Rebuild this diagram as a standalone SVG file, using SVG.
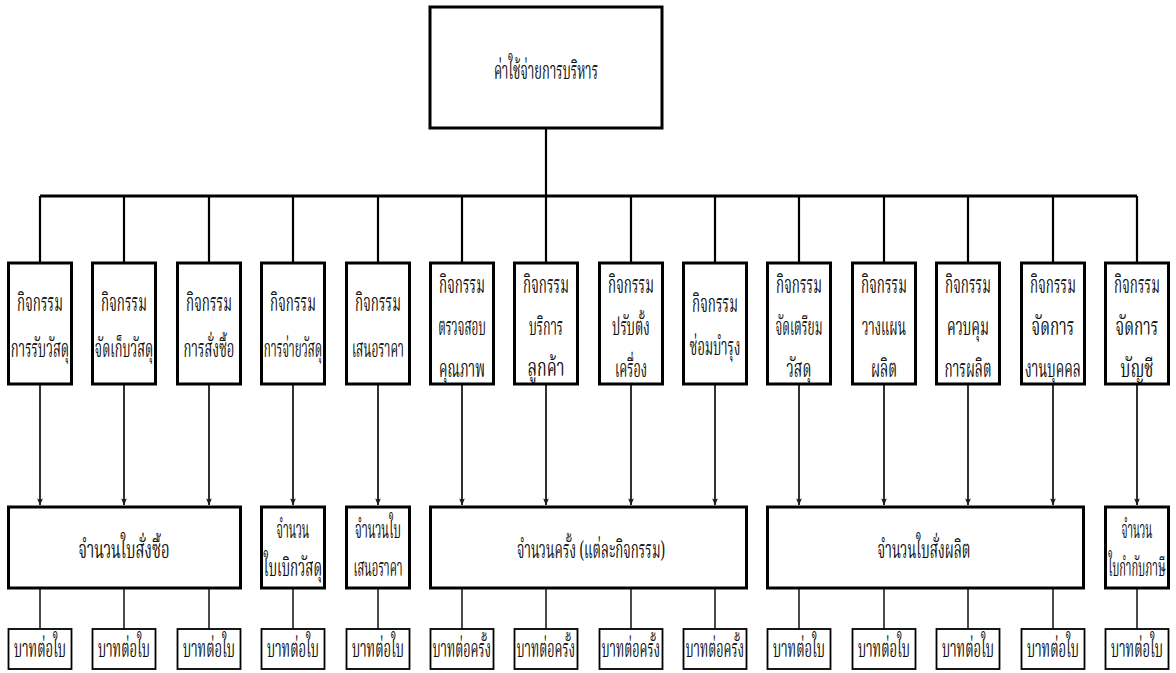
<svg xmlns="http://www.w3.org/2000/svg" width="1176" height="673" viewBox="0 0 1176 673">
  <style>
    .bg { fill: #ffffff; }
    .box { fill: #ffffff; stroke: #000000; stroke-width: 3; }
    .leaf { fill: #ffffff; stroke: #000000; stroke-width: 1.8; }
    .bar { fill: none; stroke: #000000; stroke-width: 3; }
    .stem { fill: none; stroke: #000000; stroke-width: 2.2; }
    .flow { fill: none; stroke: #1a1a1a; stroke-width: 1.8; }
    .thin { fill: none; stroke: #111111; stroke-width: 1.5; }
    text { font-family: "Noto Serif Thai", "Loma", "Garuda", "Norasi", "Noto Sans Thai", "DejaVu Sans", sans-serif; font-size: 24px; fill: #111111; text-anchor: middle; }
  </style>
  <defs>
    <marker id="arrow" viewBox="0 0 8 8" refX="7.5" refY="4" markerWidth="7" markerHeight="7" orient="auto" markerUnits="userSpaceOnUse">
      <path d="M0,0.8 L8,4 L0,7.2 L1.5,4 Z" fill="#1a1a1a"/>
    </marker>
  </defs>
  <rect class="bg" x="0" y="0" width="1176" height="673"/>

  <!-- connectors -->
  <g id="connectors">
    <line class="stem" x1="546" y1="128" x2="546" y2="196"/>
    <line class="bar" x1="40" y1="196" x2="1137" y2="196"/>
    <!-- drops from the bar to each activity -->
    <path class="stem" d="M40,196V263 M124,196V263 M209,196V263 M293,196V263 M378,196V263 M462,196V263 M546,196V263 M631,196V263 M715,196V263 M799,196V263 M884,196V263 M968,196V263 M1053,196V263 M1137,196V263"/>
    <!-- activity to driver arrows -->
    <line class="flow" x1="40" y1="384" x2="40" y2="505" marker-end="url(#arrow)"/>
    <line class="flow" x1="124" y1="384" x2="124" y2="505" marker-end="url(#arrow)"/>
    <line class="flow" x1="209" y1="384" x2="209" y2="505" marker-end="url(#arrow)"/>
    <line class="flow" x1="293" y1="384" x2="293" y2="505" marker-end="url(#arrow)"/>
    <line class="flow" x1="378" y1="384" x2="378" y2="505" marker-end="url(#arrow)"/>
    <line class="flow" x1="462" y1="384" x2="462" y2="505" marker-end="url(#arrow)"/>
    <line class="flow" x1="546" y1="384" x2="546" y2="505" marker-end="url(#arrow)"/>
    <line class="flow" x1="631" y1="384" x2="631" y2="505" marker-end="url(#arrow)"/>
    <line class="flow" x1="715" y1="384" x2="715" y2="505" marker-end="url(#arrow)"/>
    <line class="flow" x1="799" y1="384" x2="799" y2="505" marker-end="url(#arrow)"/>
    <line class="flow" x1="884" y1="384" x2="884" y2="505" marker-end="url(#arrow)"/>
    <line class="flow" x1="968" y1="384" x2="968" y2="505" marker-end="url(#arrow)"/>
    <line class="flow" x1="1053" y1="384" x2="1053" y2="505" marker-end="url(#arrow)"/>
    <line class="flow" x1="1137" y1="384" x2="1137" y2="505" marker-end="url(#arrow)"/>
    <!-- driver to rate lines -->
    <path class="thin" d="M40,588V629 M124,588V629 M209,588V629 M293,588V629 M378,588V629 M462,588V629 M546,588V629 M631,588V629 M715,588V629 M799,588V629 M884,588V629 M968,588V629 M1053,588V629 M1137,588V629"/>
  </g>

  <!-- labels use a condensed run: scale(.62 1) with textLength in local units -->
  <!-- root -->
  <g id="admin-cost">
    <rect class="box" x="430" y="7" width="232" height="121"/>
    <text transform="translate(546 79) scale(.62 1)" textLength="168" lengthAdjust="spacingAndGlyphs">ค่าใช้จ่ายการบริหาร</text>
  </g>

  <!-- activities -->
  <g id="act-receive">
    <rect class="box" x="8.5" y="263" width="63" height="121"/>
    <text transform="translate(40 311) scale(.62 1)" textLength="74" lengthAdjust="spacingAndGlyphs">กิจกรรม</text>
    <text transform="translate(40 357) scale(.62 1)" textLength="94" lengthAdjust="spacingAndGlyphs">การรับวัสดุ</text>
  </g>
  <g id="act-store">
    <rect class="box" x="92.5" y="263" width="63" height="121"/>
    <text transform="translate(124 311) scale(.62 1)" textLength="74" lengthAdjust="spacingAndGlyphs">กิจกรรม</text>
    <text transform="translate(124 357) scale(.62 1)" textLength="94" lengthAdjust="spacingAndGlyphs">จัดเก็บวัสดุ</text>
  </g>
  <g id="act-purchase">
    <rect class="box" x="177.5" y="263" width="63" height="121"/>
    <text transform="translate(209 311) scale(.62 1)" textLength="74" lengthAdjust="spacingAndGlyphs">กิจกรรม</text>
    <text transform="translate(209 357) scale(.62 1)" textLength="82" lengthAdjust="spacingAndGlyphs">การสั่งซื้อ</text>
  </g>
  <g id="act-issue">
    <rect class="box" x="261.5" y="263" width="63" height="121"/>
    <text transform="translate(293 311) scale(.62 1)" textLength="74" lengthAdjust="spacingAndGlyphs">กิจกรรม</text>
    <text transform="translate(293 357) scale(.62 1)" textLength="94" lengthAdjust="spacingAndGlyphs">การจ่ายวัสดุ</text>
  </g>
  <g id="act-quote">
    <rect class="box" x="346.5" y="263" width="63" height="121"/>
    <text transform="translate(378 311) scale(.62 1)" textLength="74" lengthAdjust="spacingAndGlyphs">กิจกรรม</text>
    <text transform="translate(378 357) scale(.62 1)" textLength="84" lengthAdjust="spacingAndGlyphs">เสนอราคา</text>
  </g>
  <g id="act-inspect">
    <rect class="box" x="430.5" y="263" width="63" height="121"/>
    <text transform="translate(462 293) scale(.62 1)" textLength="74" lengthAdjust="spacingAndGlyphs">กิจกรรม</text>
    <text transform="translate(462 335) scale(.62 1)" textLength="77" lengthAdjust="spacingAndGlyphs">ตรวจสอบ</text>
    <text transform="translate(462 377) scale(.62 1)" textLength="74" lengthAdjust="spacingAndGlyphs">คุณภาพ</text>
  </g>
  <g id="act-service">
    <rect class="box" x="514.5" y="263" width="63" height="121"/>
    <text transform="translate(546 293) scale(.62 1)" textLength="74" lengthAdjust="spacingAndGlyphs">กิจกรรม</text>
    <text transform="translate(546 335) scale(.62 1)" textLength="55" lengthAdjust="spacingAndGlyphs">บริการ</text>
    <text transform="translate(546 376) scale(.62 1)" textLength="60" lengthAdjust="spacingAndGlyphs">ลูกค้า</text>
  </g>
  <g id="act-setup">
    <rect class="box" x="599.5" y="263" width="63" height="121"/>
    <text transform="translate(631 293) scale(.62 1)" textLength="74" lengthAdjust="spacingAndGlyphs">กิจกรรม</text>
    <text transform="translate(631 335) scale(.62 1)" textLength="61" lengthAdjust="spacingAndGlyphs">ปรับตั้ง</text>
    <text transform="translate(631 377) scale(.62 1)" textLength="52" lengthAdjust="spacingAndGlyphs">เครื่อง</text>
  </g>
  <g id="act-maintain">
    <rect class="box" x="683.5" y="263" width="63" height="121"/>
    <text transform="translate(715 312) scale(.62 1)" textLength="74" lengthAdjust="spacingAndGlyphs">กิจกรรม</text>
    <text transform="translate(715 355) scale(.62 1)" textLength="82" lengthAdjust="spacingAndGlyphs">ซ่อมบำรุง</text>
  </g>
  <g id="act-prepare">
    <rect class="box" x="767.5" y="263" width="63" height="121"/>
    <text transform="translate(799 293) scale(.62 1)" textLength="74" lengthAdjust="spacingAndGlyphs">กิจกรรม</text>
    <text transform="translate(799 335) scale(.62 1)" textLength="76" lengthAdjust="spacingAndGlyphs">จัดเตรียม</text>
    <text transform="translate(799 377) scale(.62 1)" textLength="40" lengthAdjust="spacingAndGlyphs">วัสดุ</text>
  </g>
  <g id="act-plan">
    <rect class="box" x="852.5" y="263" width="63" height="121"/>
    <text transform="translate(884 293) scale(.62 1)" textLength="74" lengthAdjust="spacingAndGlyphs">กิจกรรม</text>
    <text transform="translate(884 335) scale(.62 1)" textLength="71" lengthAdjust="spacingAndGlyphs">วางแผน</text>
    <text transform="translate(884 377) scale(.62 1)" textLength="42" lengthAdjust="spacingAndGlyphs">ผลิต</text>
  </g>
  <g id="act-control">
    <rect class="box" x="936.5" y="263" width="63" height="121"/>
    <text transform="translate(968 293) scale(.62 1)" textLength="74" lengthAdjust="spacingAndGlyphs">กิจกรรม</text>
    <text transform="translate(968 335) scale(.62 1)" textLength="68" lengthAdjust="spacingAndGlyphs">ควบคุม</text>
    <text transform="translate(968 377) scale(.62 1)" textLength="76" lengthAdjust="spacingAndGlyphs">การผลิต</text>
  </g>
  <g id="act-personnel">
    <rect class="box" x="1021.5" y="263" width="63" height="121"/>
    <text transform="translate(1053 293) scale(.62 1)" textLength="74" lengthAdjust="spacingAndGlyphs">กิจกรรม</text>
    <text transform="translate(1053 335) scale(.62 1)" textLength="69" lengthAdjust="spacingAndGlyphs">จัดการ</text>
    <text transform="translate(1053 377) scale(.62 1)" textLength="90" lengthAdjust="spacingAndGlyphs">งานบุคคล</text>
  </g>
  <g id="act-accounting">
    <rect class="box" x="1105.5" y="263" width="63" height="121"/>
    <text transform="translate(1137 293) scale(.62 1)" textLength="74" lengthAdjust="spacingAndGlyphs">กิจกรรม</text>
    <text transform="translate(1137 335) scale(.62 1)" textLength="69" lengthAdjust="spacingAndGlyphs">จัดการ</text>
    <text transform="translate(1137 377) scale(.62 1)" textLength="53" lengthAdjust="spacingAndGlyphs">บัญชี</text>
  </g>

  <!-- cost drivers -->
  <g id="drv-purchase-orders">
    <rect class="box" x="8.5" y="507" width="232" height="81"/>
    <text transform="translate(124 558) scale(.62 1)" textLength="147" lengthAdjust="spacingAndGlyphs">จำนวนใบสั่งซื้อ</text>
  </g>
  <g id="drv-requisitions">
    <rect class="box" x="261.5" y="507" width="63" height="81"/>
    <text transform="translate(293 538) scale(.62 1)" textLength="53" lengthAdjust="spacingAndGlyphs">จำนวน</text>
    <text transform="translate(293 576) scale(.62 1)" textLength="94" lengthAdjust="spacingAndGlyphs">ใบเบิกวัสดุ</text>
  </g>
  <g id="drv-quotations">
    <rect class="box" x="346.5" y="507" width="63" height="81"/>
    <text transform="translate(378 538) scale(.62 1)" textLength="74" lengthAdjust="spacingAndGlyphs">จำนวนใบ</text>
    <text transform="translate(378 576) scale(.62 1)" textLength="79" lengthAdjust="spacingAndGlyphs">เสนอราคา</text>
  </g>
  <g id="drv-occurrences">
    <rect class="box" x="430.5" y="507" width="316" height="81"/>
    <text transform="translate(591 558) scale(.62 1)" textLength="239" lengthAdjust="spacingAndGlyphs">จำนวนครั้ง (แต่ละกิจกรรม)</text>
  </g>
  <g id="drv-production-orders">
    <rect class="box" x="767.5" y="507" width="316" height="81"/>
    <text transform="translate(924 558) scale(.62 1)" textLength="150" lengthAdjust="spacingAndGlyphs">จำนวนใบสั่งผลิต</text>
  </g>
  <g id="drv-tax-invoices">
    <rect class="box" x="1105.5" y="507" width="63" height="81"/>
    <text transform="translate(1137 538) scale(.62 1)" textLength="50" lengthAdjust="spacingAndGlyphs">จำนวน</text>
    <text transform="translate(1137 576) scale(.48 1)" textLength="119" lengthAdjust="spacingAndGlyphs">ใบกำกับภาษี</text>
  </g>

  <!-- rates -->
  <g id="rate-1"><rect class="leaf" x="8.5" y="629" width="63" height="40"/><text transform="translate(40 657) scale(.62 1)" textLength="84" lengthAdjust="spacingAndGlyphs">บาทต่อใบ</text></g>
  <g id="rate-2"><rect class="leaf" x="92.5" y="629" width="63" height="40"/><text transform="translate(124 657) scale(.62 1)" textLength="84" lengthAdjust="spacingAndGlyphs">บาทต่อใบ</text></g>
  <g id="rate-3"><rect class="leaf" x="177.5" y="629" width="63" height="40"/><text transform="translate(209 657) scale(.62 1)" textLength="84" lengthAdjust="spacingAndGlyphs">บาทต่อใบ</text></g>
  <g id="rate-4"><rect class="leaf" x="261.5" y="629" width="63" height="40"/><text transform="translate(293 657) scale(.62 1)" textLength="84" lengthAdjust="spacingAndGlyphs">บาทต่อใบ</text></g>
  <g id="rate-5"><rect class="leaf" x="346.5" y="629" width="63" height="40"/><text transform="translate(378 657) scale(.62 1)" textLength="84" lengthAdjust="spacingAndGlyphs">บาทต่อใบ</text></g>
  <g id="rate-6"><rect class="leaf" x="430.5" y="629" width="63" height="40"/><text transform="translate(462 657) scale(.62 1)" textLength="94" lengthAdjust="spacingAndGlyphs">บาทต่อครั้ง</text></g>
  <g id="rate-7"><rect class="leaf" x="514.5" y="629" width="63" height="40"/><text transform="translate(546 657) scale(.62 1)" textLength="94" lengthAdjust="spacingAndGlyphs">บาทต่อครั้ง</text></g>
  <g id="rate-8"><rect class="leaf" x="599.5" y="629" width="63" height="40"/><text transform="translate(631 657) scale(.62 1)" textLength="94" lengthAdjust="spacingAndGlyphs">บาทต่อครั้ง</text></g>
  <g id="rate-9"><rect class="leaf" x="683.5" y="629" width="63" height="40"/><text transform="translate(715 657) scale(.62 1)" textLength="94" lengthAdjust="spacingAndGlyphs">บาทต่อครั้ง</text></g>
  <g id="rate-10"><rect class="leaf" x="767.5" y="629" width="63" height="40"/><text transform="translate(799 657) scale(.62 1)" textLength="84" lengthAdjust="spacingAndGlyphs">บาทต่อใบ</text></g>
  <g id="rate-11"><rect class="leaf" x="852.5" y="629" width="63" height="40"/><text transform="translate(884 657) scale(.62 1)" textLength="84" lengthAdjust="spacingAndGlyphs">บาทต่อใบ</text></g>
  <g id="rate-12"><rect class="leaf" x="936.5" y="629" width="63" height="40"/><text transform="translate(968 657) scale(.62 1)" textLength="84" lengthAdjust="spacingAndGlyphs">บาทต่อใบ</text></g>
  <g id="rate-13"><rect class="leaf" x="1021.5" y="629" width="63" height="40"/><text transform="translate(1053 657) scale(.62 1)" textLength="84" lengthAdjust="spacingAndGlyphs">บาทต่อใบ</text></g>
  <g id="rate-14"><rect class="leaf" x="1105.5" y="629" width="63" height="40"/><text transform="translate(1137 657) scale(.62 1)" textLength="84" lengthAdjust="spacingAndGlyphs">บาทต่อใบ</text></g>
</svg>
